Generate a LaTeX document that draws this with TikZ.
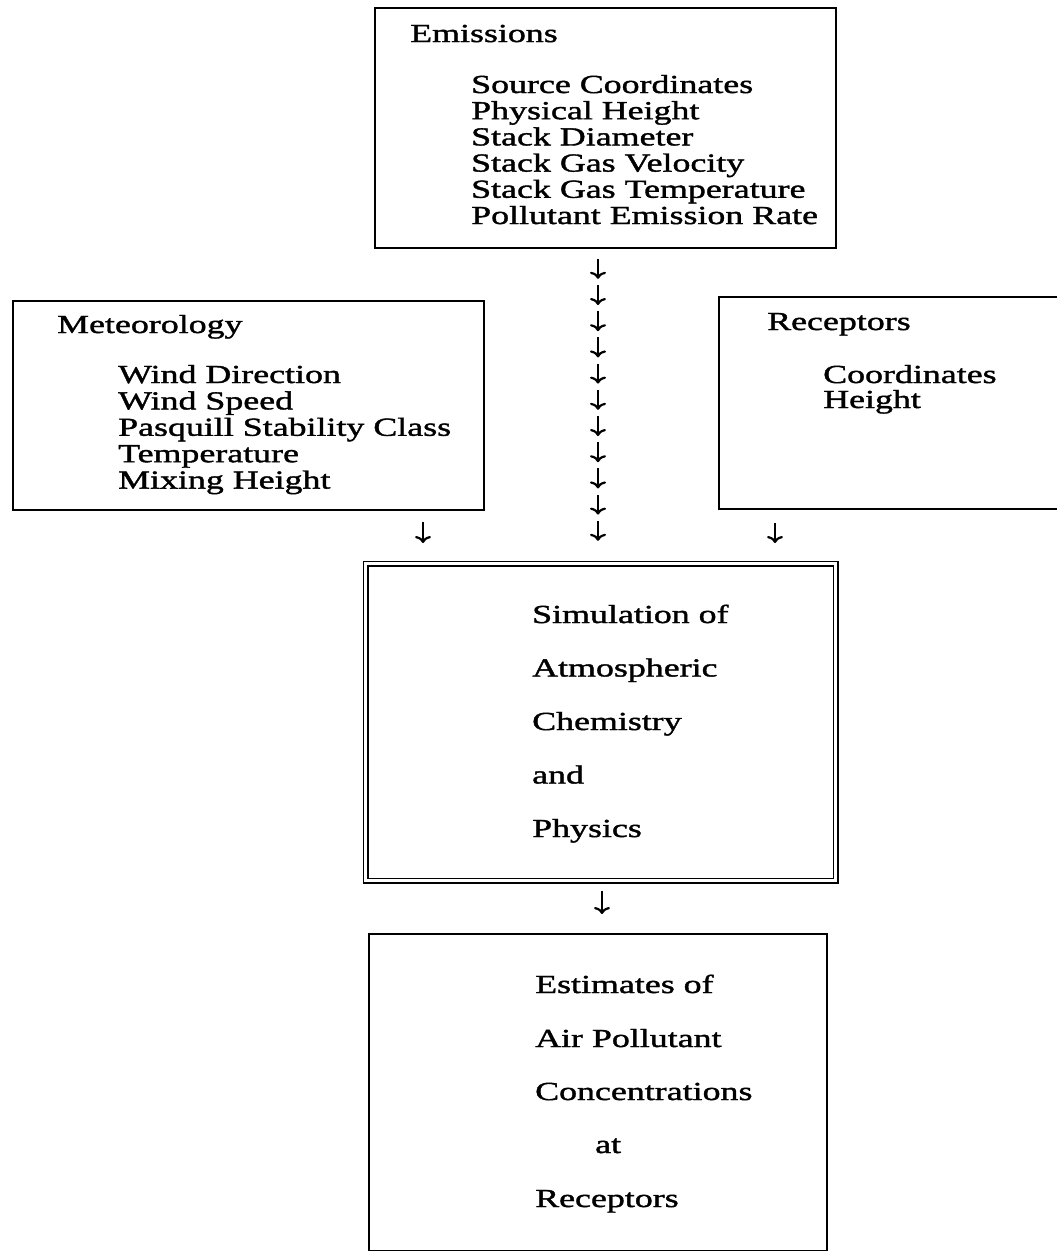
\documentclass[tikz,border=0pt]{standalone}
\usepackage{fontspec}
\setmainfont{Liberation Serif}[FakeStretch=1.38,FakeBold=1.4]
\usetikzlibrary{arrows.meta,calc}
\begin{document}
\begin{tikzpicture}[x=1pt,y=-1pt,
  box/.style={draw=black,line width=1.8pt,rectangle,inner sep=0pt,anchor=north west},
  txt/.style={anchor=base west,inner sep=0pt,font=\fontsize{26}{30}\selectfont},
  arr/.style={line width=2.2pt,-{Computer Modern Rightarrow[length=7pt,width=16pt,line width=2.2pt]}}]
\clip (0,0) rectangle (1057,1251);
\fill[white] (0,0) rectangle (1057,1251);
% boxes
\node[box,minimum width=461pt,minimum height=240pt] (ems) at (374,7) {};
\node[box,minimum width=471pt,minimum height=209pt] (met) at (12,300) {};
\node[box,minimum width=360pt,minimum height=212pt] (rec) at (718,296) {};
\node[box,double,double distance=3.5pt,line width=1.4pt,minimum width=470pt,minimum height=317pt] (sim) at (365,563) {};
\node[box,minimum width=458pt,minimum height=317pt] (est) at (368,933) {};
% texts
\node[txt] (emsT) at (410,42) {Emissions};
\foreach \t [count=\i from 0] in {Source Coordinates,Physical Height,Stack Diameter,Stack Gas Velocity,Stack Gas Temperature,Pollutant Emission Rate}
  \node[txt] (ems\i) at (471,93+26.2*\i) {\t};
\node[txt] (metT) at (57,333) {Meteorology};
\foreach \t [count=\i from 0] in {Wind Direction,Wind Speed,Pasquill Stability Class,Temperature,Mixing Height}
  \node[txt] (met\i) at (118,383+26.4*\i) {\t};
\node[txt] (recT) at (767,330) {Receptors};
\node[txt] (rec0) at (823,383) {Coordinates};
\node[txt] (rec1) at (823,408) {Height};
\foreach \t [count=\i from 0] in {Simulation of,Atmospheric,Chemistry,and,Physics}
  \node[txt] (sim\i) at (532,623+53.5*\i) {\t};
\node[txt] (est0) at (535,993) {Estimates of};
\node[txt] (est1) at (535,1047) {Air Pollutant};
\node[txt] (est2) at (535,1100) {Concentrations};
\node[txt] (est3) at (595,1153) {at};
\node[txt] (est4) at (535,1207) {Receptors};
% connectors
\coordinate (colx) at (598,0);
\foreach \i in {0,...,10}
  \draw[arr] ($(colx |- ems.south)+(0,10+26.2*\i)$) -- ++(0,20);
\coordinate (lx) at (423,0);
\coordinate (rx) at (775,0);
\draw[arr] ($(lx |- met.south)+(0,11)$) -- ($(lx |- sim.north)+(0,-20)$);
\draw[arr] ($(rx |- rec.south)+(0,13)$) -- ($(rx |- sim.north)+(0,-20)$);
\coordinate (bx) at (602,0);
\draw[arr] ($(bx |- sim.south)+(0,10)$) -- ($(bx |- est.north)+(0,-19)$);
\end{tikzpicture}
\end{document}
